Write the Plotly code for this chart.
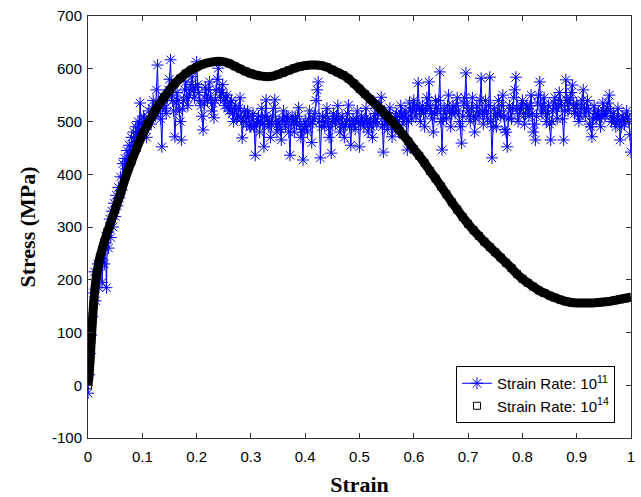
import plotly.graph_objects as go

# Strain rate 1e11: noisy stress-strain samples, strain step 0.002 from 0 to 1
stress_11 = [
    # 0.000 - 0.098
    -15, 20, 60, 95, 130, 175, 215, 160, 200, 230, 185, 225, 240, 195, 255, 230, 270, 185, 290, 260,
    315, 280, 330, 300, 345, 320, 360, 340, 375, 355, 395, 370, 420, 395, 430, 410, 445, 425, 455, 435,
    470, 445, 480, 460, 490, 470, 500, 480, 535, 495,
    # 0.100 - 0.198
    490, 510, 505, 485, 470, 500, 520, 505, 495, 525, 540, 515, 510, 560, 607, 520, 530, 505, 452, 530,
    545, 525, 515, 545, 560, 580, 617, 550, 540, 520, 471, 535, 555, 540, 520, 500, 465, 525, 540, 560,
    575, 545, 530, 550, 560, 570, 585, 560, 545, 565,
    # 0.200 - 0.298
    613, 570, 555, 540, 530, 510, 484, 535, 565, 550, 540, 560, 575, 545, 520, 535, 507, 540, 560, 580,
    601, 560, 545, 555, 570, 540, 530, 545, 550, 525, 520, 535, 540, 515, 500, 520, 530, 505, 510, 525,
    545, 505, 469, 500, 520, 510, 495, 520, 510, 490,
    # 0.300 - 0.398
    490, 505, 515, 490, 436, 495, 500, 510, 480, 500, 525, 495, 452, 510, 541, 505, 490, 500, 470, 495,
    510, 525, 541, 500, 480, 495, 500, 485, 465, 505, 520, 500, 490, 510, 505, 480, 436, 495, 510, 500,
    480, 505, 495, 510, 526, 495, 470, 485, 427, 490,
    # 0.400 - 0.498
    500, 490, 480, 505, 520, 495, 460, 500, 505, 515, 540, 560, 575, 500, 431, 490, 510, 500, 490, 510,
    525, 500, 470, 490, 440, 500, 515, 505, 495, 510, 530, 505, 480, 495, 510, 490, 470, 495, 500, 515,
    531, 490, 455, 495, 505, 495, 485, 505, 520, 500,
    # 0.500 - 0.598
    452, 495, 510, 500, 490, 505, 525, 500, 480, 495, 505, 490, 470, 500, 515, 505, 495, 515, 530, 520,
    546, 490, 442, 495, 505, 500, 485, 510, 526, 495, 471, 495, 500, 510, 515, 500, 480, 510, 530, 515,
    495, 510, 520, 505, 446, 500, 535, 520, 505, 525,
    # 0.600 - 0.698
    540, 520, 510, 530, 573, 525, 500, 520, 530, 515, 490, 520, 545, 530, 575, 525, 515, 505, 480, 515,
    540, 525, 520, 540, 594, 500, 446, 505, 525, 515, 505, 530, 550, 520, 490, 515, 530, 520, 515, 530,
    545, 520, 500, 490, 459, 510, 535, 545, 592, 530,
    # 0.700 - 0.798
    520, 510, 500, 525, 545, 510, 480, 505, 530, 520, 510, 540, 582, 520, 495, 515, 540, 520, 505, 530,
    584, 500, 431, 490, 525, 510, 490, 515, 540, 520, 510, 530, 550, 510, 485, 480, 452, 505, 530, 520,
    505, 525, 545, 560, 584, 525, 500, 515, 525, 530,
    # 0.800 - 0.898
    540, 515, 495, 515, 530, 525, 510, 530, 550, 515, 480, 495, 465, 510, 535, 550, 575, 530, 515, 530,
    545, 520, 500, 515, 530, 495, 465, 500, 520, 535, 545, 525, 505, 530, 555, 540, 530, 505, 465, 520,
    579, 540, 520, 535, 545, 555, 569, 530, 515, 525,
    # 0.900 - 1.000
    535, 515, 500, 510, 525, 540, 560, 525, 510, 525, 540, 520, 495, 490, 471, 505, 530, 515, 505, 515,
    520, 505, 490, 510, 535, 520, 510, 515, 525, 535, 550, 520, 500, 505, 515, 500, 490, 505, 525, 500,
    465, 490, 510, 505, 495, 505, 520, 510, 500, 475, 442,
]
strain_11 = [round(i * 0.002, 3) for i in range(len(stress_11))]

# Strain rate 1e14: smooth stress-strain curve
strain_14 = [0, 0.002, 0.004, 0.006, 0.008, 0.010, 0.013, 0.016, 0.019, 0.022, 0.026, 0.030, 0.035,
             0.04, 0.05, 0.06, 0.07, 0.08, 0.09, 0.10, 0.11, 0.12, 0.13, 0.14, 0.15, 0.16, 0.17, 0.18, 0.19,
             0.20, 0.21, 0.22, 0.23, 0.24, 0.25, 0.26, 0.27, 0.28, 0.29, 0.30, 0.31, 0.32, 0.33, 0.34, 0.35,
             0.36, 0.37, 0.38, 0.39, 0.40, 0.41, 0.42, 0.43, 0.44, 0.45, 0.46, 0.47, 0.48, 0.49, 0.50, 0.51,
             0.52, 0.53, 0.54, 0.55, 0.56, 0.57, 0.58, 0.59, 0.60, 0.61, 0.62, 0.63, 0.64, 0.65, 0.66, 0.67,
             0.68, 0.69, 0.70, 0.71, 0.72, 0.73, 0.74, 0.75, 0.76, 0.77, 0.78, 0.79, 0.80, 0.81, 0.82, 0.83,
             0.84, 0.85, 0.86, 0.87, 0.88, 0.89, 0.90, 0.91, 0.92, 0.93, 0.94, 0.95, 0.96, 0.97, 0.98, 0.99, 1.00]
stress_14 = [0, 20, 50, 85, 120, 150, 185, 210, 228, 243, 258, 272, 288,
             303, 333, 364, 396, 424, 450, 474, 495, 514, 531, 546, 559, 572, 582, 591, 598,
             603, 608, 611, 613, 614, 613, 610, 605, 600, 595, 591, 588, 586, 585, 586, 589,
             593, 597, 601, 604, 606, 607, 607, 606, 603, 598, 593, 588, 581, 572, 562, 552,
             542, 532, 522, 511, 500, 488, 475, 462, 448, 435, 421, 406, 392, 377, 362, 347,
             333, 319, 306, 294, 283, 272, 262, 252, 242, 232, 222, 211, 202, 194, 187, 180,
             175, 170, 166, 162, 159, 157, 156, 156, 156, 156, 157, 158, 159, 161, 163, 165, 167]

x_ticks = [0, 0.1, 0.2, 0.3, 0.4, 0.5, 0.6, 0.7, 0.8, 0.9, 1]
x_tick_text = ["0", "0.1", "0.2", "0.3", "0.4", "0.5", "0.6", "0.7", "0.8", "0.9", "1"]
y_ticks = [-100, 0, 100, 200, 300, 400, 500, 600, 700]
y_tick_text = ["-100", "0", "100", "200", "300", "400", "500", "600", "700"]

tick_font = dict(family="Liberation Sans, Arial", size=15, color="black")
title_font = dict(family="Liberation Serif, Times New Roman", size=22, color="black")

fig = go.Figure()

fig.add_trace(go.Scatter(
    x=strain_11, y=stress_11, mode="lines+markers",
    name="Strain Rate: 10<sup>11</sup>",
    line=dict(color="#0000FF", width=1),
    marker=dict(symbol="asterisk-open", size=10, color="#0000FF",
                line=dict(color="#0000FF", width=1)),
))

# thick band behind the squares, mimicking the densely packed markers
fig.add_trace(go.Scatter(
    x=strain_14, y=stress_14, mode="lines", showlegend=False,
    line=dict(color="black", width=9, shape="spline"),
    hoverinfo="skip",
))

fig.add_trace(go.Scatter(
    x=strain_14, y=stress_14, mode="markers",
    name="Strain Rate: 10<sup>14</sup>",
    marker=dict(symbol="square-open", size=7, color="black",
                line=dict(color="black", width=1)),
))

axis_common = dict(
    showline=True, linecolor="#333333", linewidth=1, mirror="ticks",
    ticks="inside", ticklen=5, tickcolor="#333333", automargin=False,
    showgrid=False, zeroline=False, tickfont=tick_font,
)

fig.update_layout(
    width=641, height=497, autosize=False,
    margin=dict(l=88, r=10, t=16, b=59),
    plot_bgcolor="white", paper_bgcolor="white",
    xaxis=dict(range=[0, 1], tickvals=x_ticks, ticktext=x_tick_text, ticklabelstandoff=5,
               title=dict(text="<b>Strain</b>", font=title_font, standoff=12),
               **axis_common),
    yaxis=dict(range=[-100, 700], tickvals=y_ticks, ticktext=y_tick_text, ticklabelstandoff=2,
               title=dict(text="<b>Stress (MPa)</b>", font=title_font, standoff=10),
               **axis_common),
    legend=dict(x=0.9705, y=0.0355, xanchor="right", yanchor="bottom",
                bgcolor="white", bordercolor="black", borderwidth=1,
                font=dict(family="Liberation Sans, Arial", size=15, color="black"),
                tracegroupgap=0),
    showlegend=True,
)

# drop the page's default body margin so the figure sits at the window origin
fig.write_html("out.html", config={"responsive": False, "displayModeBar": False},
               post_script="document.body.style.margin='0px';")
